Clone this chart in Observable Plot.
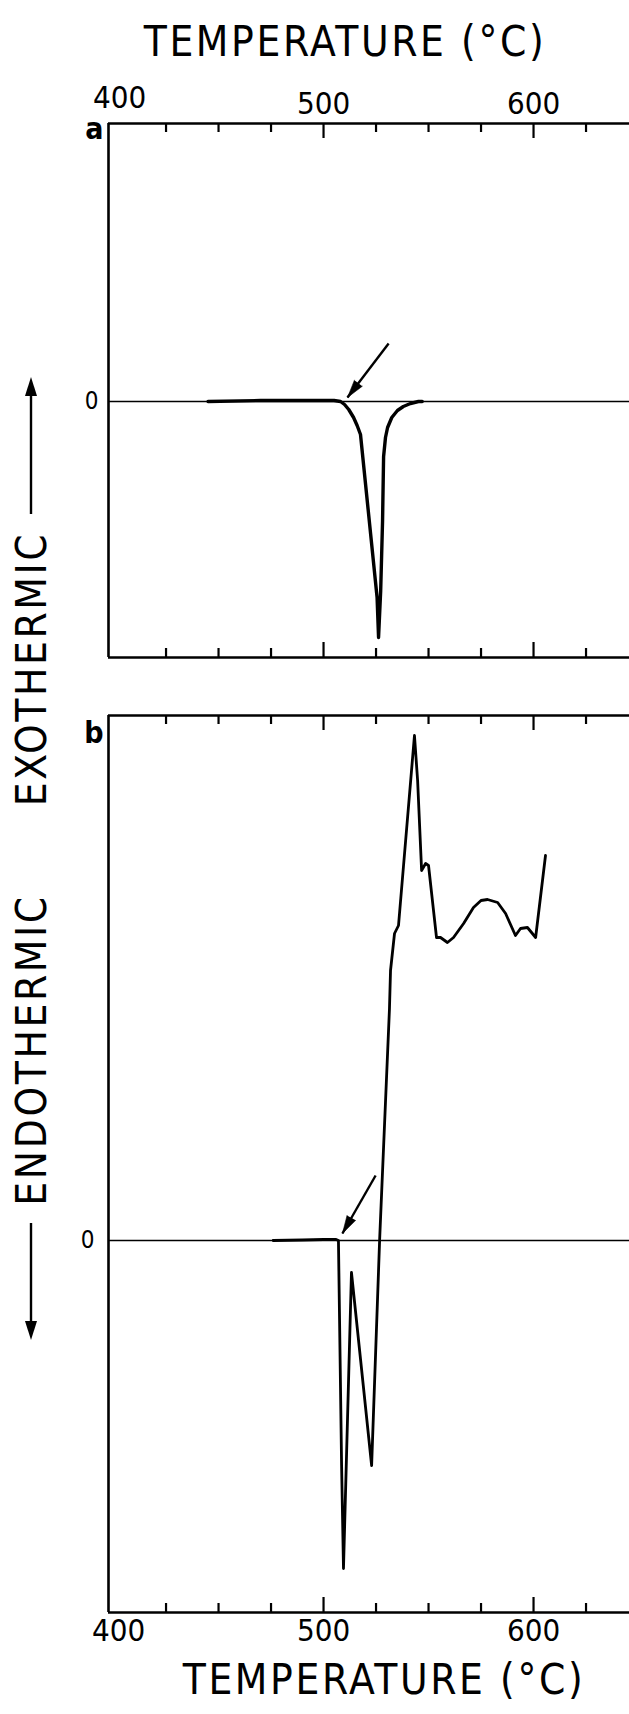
<!DOCTYPE html>
<html>
<head>
<meta charset="utf-8">
<script src="https://cdn.jsdelivr.net/npm/d3@7"></script>
<script src="https://cdn.jsdelivr.net/npm/@observablehq/plot@0.6"></script>
<style>
  body { margin: 0; background: #fff; }
  #chart { position: relative; width: 629px; height: 1714px; overflow: hidden; background: #fff; }
  #chart svg { position: absolute; left: 0; overflow: visible; }
</style>
</head>
<body>
<div id="chart"></div>
<script>
// ---------------- data ----------------
const xTitle = "TEMPERATURE (°C)";
const yLabelUp = "EXOTHERMIC";
const yLabelDown = "ENDOTHERMIC";
const panelLabels = ["a", "b"];
const zeroTick = [0];
const majorTicks = [400, 500, 600];
const minorTicks = [425, 450, 475, 525, 550, 575, 625];
const xDomain = [397.6, 645.7];

// panel a (DTA signal, arbitrary units)
const tempA =   [445, 470, 495, 505, 508.1, 510, 512, 514.3, 516, 517.6, 525.5, 526.2, 527.2, 528.1, 528.6, 529.5, 530.5, 532.5, 535.2, 538, 541.4, 545.2, 547];
const signalA = [0, 0.01, 0.01, 0.01, 0, -0.03, -0.08, -0.16, -0.24, -0.33, -1.96, -2.36, -1.9, -1.2, -0.55, -0.36, -0.26, -0.16, -0.09, -0.05, -0.02, 0, 0];
const yDomainA = [-2.56, 2.78];
const arrowA = {x1: 531, y1: 0.58, x2: 511.4, y2: 0.04};

// panel b
const tempB =   [476, 490, 500, 506, 507.1, 508.6, 509.5, 513.3, 522.9, 526.7, 531.4, 531.9, 533.8, 535.7, 543.3, 544.8, 546.7, 548.6, 550.0, 553.8, 555.7, 559.0, 561.9, 566.7, 571.4, 575, 578.1, 582.9, 586.7, 591.4, 593.8, 597.1, 601.0, 605.7];
const signalB = [0, 0.005, 0.01, 0.01, 0, -2.25, -3.28, -0.32, -2.25, 0, 2.32, 2.70, 3.07, 3.15, 5.05, 4.60, 3.70, 3.77, 3.75, 3.03, 3.03, 2.98, 3.03, 3.17, 3.33, 3.40, 3.41, 3.38, 3.27, 3.05, 3.12, 3.13, 3.03, 3.85];
const yDomainB = [-3.72, 5.25];
const arrowB = {x1: 524.8, y1: 0.65, x2: 509.0, y2: 0.07};

// ---------------- drawing ----------------
const FONT = "'DejaVu Sans Condensed', 'Liberation Sans Narrow', 'DejaVu Sans', sans-serif";
const chart = document.getElementById("chart");
const W = 629, ML = 108;

function panel(opts) {
  const {temps, signals, yDomain, height, marginTop, marginBottom, label, arrow, curveWidth, topLabels, bottomLabels, title, titleDx, titleDy, zeroPad, labelDy} = opts;
  const frameH = height - marginTop - marginBottom;
  const pts = temps.map((t, i) => ({t, v: signals[i]}));
  // arrow head orientation in screen space
  const kx = (W - ML) / (xDomain[1] - xDomain[0]);
  const ky = frameH / (yDomain[1] - yDomain[0]);
  const dxp = (arrow.x2 - arrow.x1) * kx, dyp = -(arrow.y2 - arrow.y1) * ky;
  const headRotate = Math.atan2(dxp, -dyp) * 180 / Math.PI;
  const marks = [
    Plot.ruleY(zeroTick, {y: d => d, stroke: "#000", strokeWidth: 1.5}),
    // frame: left, top, bottom (no right side)
    Plot.ruleX([xDomain[0]], {x: d => d, stroke: "#000", strokeWidth: 2.6}),
    Plot.ruleY([yDomain[0], yDomain[1]], {y: d => d, stroke: "#000", strokeWidth: 2.6}),
    // inward ticks, top and bottom
    Plot.ruleX(minorTicks, {x: d => d, insetBottom: frameH - 9, stroke: "#000", strokeWidth: 2.2}),
    Plot.ruleX(minorTicks, {x: d => d, insetTop: frameH - 9, stroke: "#000", strokeWidth: 2.2}),
    Plot.ruleX(majorTicks.slice(1), {x: d => d, insetBottom: frameH - 15, stroke: "#000", strokeWidth: 2.2}),
    Plot.ruleX(majorTicks.slice(1), {x: d => d, insetTop: frameH - 15, stroke: "#000", strokeWidth: 2.2}),
    Plot.axisY(zeroTick, {anchor: "left", tickSize: 0, tickPadding: zeroPad, fontSize: 24, label: null, tickFormat: d => String(d)}),
    Plot.line(pts, {x: "t", y: "v", stroke: "#000", strokeWidth: curveWidth, curve: "linear", strokeLinejoin: "round", strokeLinecap: "round"}),
    Plot.link([arrow], {x1: "x1", y1: "y1", x2: "x2", y2: "y2", stroke: "#000", strokeWidth: 2.4}),
    Plot.vector([arrow], {x: "x2", y: "y2", anchor: "end", shape: "spike", length: 18, r: 5, rotate: headRotate, fill: "#000", stroke: "#000", strokeWidth: 0.5}),
    Plot.text([label], {frameAnchor: "top-left", dx: -5, dy: labelDy, textAnchor: "end", lineAnchor: "top", fontWeight: "bold", fontSize: 30, fontFamily: "'DejaVu Sans', sans-serif"})
  ];
  if (topLabels) {
    marks.push(Plot.axisX(majorTicks.slice(0, 1), {anchor: "top", tickSize: 0, tickPadding: 10, dx: 6, dy: -6, fontSize: 31, label: null, tickFormat: d => String(d)}));
    marks.push(Plot.axisX(majorTicks.slice(1), {anchor: "top", tickSize: 0, tickPadding: 10, fontSize: 31, label: null, tickFormat: d => String(d)}));
  }
  if (bottomLabels) {
    marks.push(Plot.axisX(majorTicks.slice(0, 1), {anchor: "bottom", tickSize: 0, tickPadding: 6, dx: 5, fontSize: 31, label: null, tickFormat: d => String(d)}));
    marks.push(Plot.axisX(majorTicks.slice(1), {anchor: "bottom", tickSize: 0, tickPadding: 6, fontSize: 31, label: null, tickFormat: d => String(d)}));
  }
  if (title) marks.push(Plot.text([title], {frameAnchor: topLabels ? "top" : "bottom", dx: titleDx, dy: titleDy, lineAnchor: "middle", fontSize: 42}));
  const p = Plot.plot({
    width: W, height, marginTop, marginBottom, marginLeft: ML, marginRight: 0,
    x: {domain: xDomain},
    y: {domain: yDomain},
    style: {fontFamily: FONT, fontStretch: "condensed", color: "#000", background: "transparent", overflow: "visible"},
    marks
  });
  d3.select(p).selectAll("text").filter(function() { return this.textContent === title; })
    .attr("letter-spacing", "2.6px");
  return p;
}

const plotA = panel({temps: tempA, signals: signalA, yDomain: yDomainA, height: 680, marginTop: 123, marginBottom: 23,
  label: panelLabels[0], arrow: arrowA, curveWidth: 3.4, topLabels: true, title: xTitle, titleDx: -24, titleDy: -81, zeroPad: 10, labelDy: -6});
plotA.style.top = "0px";
chart.appendChild(plotA);

const plotB = panel({temps: tempB, signals: signalB, yDomain: yDomainB, height: 1034, marginTop: 35, marginBottom: 102,
  label: panelLabels[1], arrow: arrowB, curveWidth: 2.8, bottomLabels: true, title: xTitle, titleDx: 15, titleDy: 68, zeroPad: 14, labelDy: 6});
plotB.style.top = "680px";
chart.appendChild(plotB);

// vertical axis label with arrows
const svg = d3.select(chart).append("svg")
  .attr("width", W).attr("height", 1714).style("top", "0px")
  .style("font-family", FONT).style("font-stretch", "condensed");
const cx = 31;
svg.append("line").attr("x1", cx).attr("x2", cx).attr("y1", 514).attr("y2", 392).attr("stroke", "#000").attr("stroke-width", 2.4);
svg.append("path").attr("d", `M${cx},377 L${cx - 6},396 L${cx + 6},396 Z`).attr("fill", "#000");
svg.append("text").attr("transform", `translate(${cx},669) rotate(-90)`).attr("text-anchor", "middle")
  .attr("dominant-baseline", "central").attr("font-size", 42).attr("letter-spacing", "2.6px").text(yLabelUp);
svg.append("text").attr("transform", `translate(${cx},1050) rotate(-90)`).attr("text-anchor", "middle")
  .attr("dominant-baseline", "central").attr("font-size", 42).attr("letter-spacing", "2.6px").text(yLabelDown);
svg.append("line").attr("x1", cx).attr("x2", cx).attr("y1", 1223).attr("y2", 1325).attr("stroke", "#000").attr("stroke-width", 2.4);
svg.append("path").attr("d", `M${cx},1340 L${cx - 6},1321 L${cx + 6},1321 Z`).attr("fill", "#000");
</script>
</body>
</html>
